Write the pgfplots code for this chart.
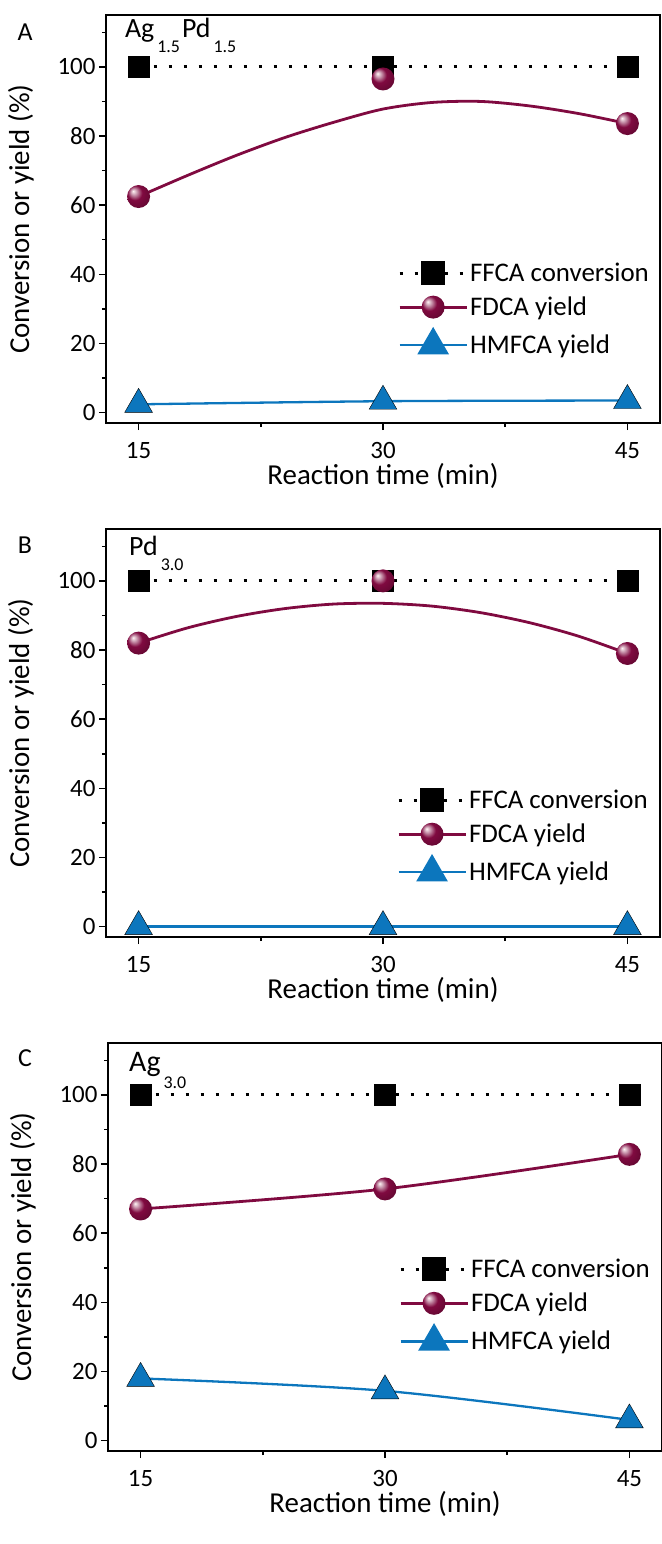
\documentclass[border=0pt]{standalone}
\usepackage{pgfplots}
\pgfplotsset{compat=1.18}
\usepackage{fontspec}
\setmainfont{Carlito}
\definecolor{wine}{RGB}{128,10,64}
\definecolor{hblue}{RGB}{12,118,189}
\pgfdeclareradialshading{wineball}{\pgfpoint{-12bp}{12bp}}{color(0bp)=(white!85!pink); color(7bp)=(wine!45!white); color(16bp)=(wine); color(27bp)=(wine!85!black); color(50bp)=(wine!40!black)}
\pgfdeclareplotmark{myball}{\pgfpathcircle{\pgfpointorigin}{\pgfplotmarksize}\pgfshadepath{wineball}{0}\pgfusepath{}}
\pgfplotsset{
  panel/.style={
    scale only axis, width=554bp, height=408bp,
    xmin=13, xmax=47, ymin=-3, ymax=115,
    xtick={15,30,45}, minor xtick={22.5,37.5},
    ytick={0,20,...,100}, minor ytick={10,30,...,110},
    tick align=outside, tick pos=left,
    major tick length=7bp, minor tick length=4bp,
    axis line style={line width=2bp},
    every tick/.append style={black, line width=1.5bp},
    /pgf/number format/assume math mode=true,
    tick label style={font=\fontsize{25}{25}\selectfont},
    xticklabel style={yshift=-9bp},
    xlabel={Reaction time (min)},
    ylabel={Conversion or yield (\%)},
    label style={font=\fontsize{29}{29}\selectfont},
    xlabel style={at={(axis description cs:0.5,0)}, anchor=center, yshift=-53bp},
    ylabel style={at={(axis description cs:0,0.5)}, anchor=center, yshift=85bp},
    legend cell align=left,
    legend style={draw=none, fill=none, inner sep=0pt, row sep=10bp,
      font=\fontsize{27}{27}\selectfont, anchor=west},
    legend image code/.code={\draw[mark repeat=2,mark phase=2,##1] plot coordinates {(0bp,0bp) (33.5bp,0bp) (67bp,0bp)};},
  },
  ffcaline/.style={black, line width=3bp, dash pattern=on 3bp off 12bp},
  ffcamark/.style={only marks, mark=square*, mark size=10.5bp, mark options={solid, draw=none, fill=black}},
  fdcaline/.style={wine, line width=2.8bp},
  fdcamark/.style={only marks, mark=myball, mark size=11.5bp},
  hmline/.style={hblue, line width=2.3bp},
  hmmark/.style={only marks, mark=triangle*, mark size=16bp, mark options={solid, draw=none, fill=hblue}},
}
\newcommand{\legendset}{%
  \addlegendimage{ffcaline, mark=square*, mark size=10.5bp, mark options={solid, draw=none, fill=black}}
  \addlegendentry{FFCA conversion}
  \addlegendimage{fdcaline, mark=myball, mark size=11.5bp}
  \addlegendentry{FDCA yield}
  \addlegendimage{hmline, mark=triangle*, mark size=16bp, mark options={solid, draw=none, fill=hblue}}
  \addlegendentry{HMFCA yield}
}
\newcommand{\sub}[2][-15bp]{\kern3bp\raisebox{#1}{\fontsize{18}{18}\selectfont #2}\kern2bp}
\begin{document}
\begin{tikzpicture}
\useasboundingbox (0,0) rectangle (662bp,-1544bp);
% ---------------- Panel A
\begin{axis}[panel, at={(106bp,-423bp)}, anchor=south west,
  legend style={at={(0.527,0.279)}}]
\addplot[ffcaline, forget plot] coordinates {(15,100) (30,100) (45,100)};
\addplot[fdcaline, smooth, forget plot] coordinates {(15,62.5) (18,68.6) (21,74.4) (24,79.6) (27,84.0) (30,87.8) (33,89.7) (36,90.0) (39,88.7) (42,86.5) (45,83.6)};
\addplot[hmline, smooth, forget plot] coordinates {(15,2.4) (30,3.3) (45,3.5)};
\addplot[ffcamark, forget plot] coordinates {(15,100) (30,100) (45,100)};
\addplot[fdcamark, forget plot] coordinates {(15,62.5) (30,96.5) (45,83.6)};
\addplot[hmmark, forget plot] coordinates {(15,2.4) (30,3.3) (45,3.5)};
\legendset
\node[anchor=base west, inner sep=0pt, font=\fontsize{28}{28}\selectfont] at (rel axis cs:0.034,0.944) {Ag\sub{1.5}Pd\sub{1.5}};
\end{axis}
\node[font=\fontsize{26}{26}\selectfont] at (25bp,-32bp) {A};
% ---------------- Panel B
\begin{axis}[panel, at={(106bp,-937bp)}, anchor=south west,
  legend style={at={(0.525,0.247)}}]
\addplot[ffcaline, forget plot] coordinates {(15,100) (30,100) (45,100)};
\addplot[fdcaline, smooth, forget plot] coordinates {(15,82.0) (18,86.4) (21,89.7) (24,92.0) (27,93.3) (30,93.5) (33,92.7) (36,90.8) (39,87.9) (42,84.0) (45,79.0)};
\addplot[hmline, forget plot] coordinates {(15,0) (30,0) (45,0)};
\addplot[ffcamark, forget plot] coordinates {(15,100) (30,100) (45,100)};
\addplot[fdcamark, forget plot] coordinates {(15,82.0) (30,100) (45,79.0)};
\addplot[hmmark, forget plot] coordinates {(15,0) (30,0) (45,0)};
\legendset
\node[anchor=base west, inner sep=0pt, font=\fontsize{28}{28}\selectfont] at (rel axis cs:0.0415,0.934) {Pd\sub{3.0}};
\end{axis}
\node[font=\fontsize{26}{26}\selectfont] at (25bp,-545bp) {B};
% ---------------- Panel C
\begin{axis}[panel, at={(108bp,-1451bp)}, anchor=south west,
  legend style={at={(0.525,0.357)}}]
\addplot[ffcaline, forget plot] coordinates {(15,100) (30,100) (45,100)};
\addplot[fdcaline, smooth, forget plot] coordinates {(15,67.0) (30,72.8) (45,82.8)};
\addplot[hmline, smooth, forget plot] coordinates {(15,18.0) (30,14.4) (45,6.0)};
\addplot[ffcamark, forget plot] coordinates {(15,100) (30,100) (45,100)};
\addplot[fdcamark, forget plot] coordinates {(15,67.0) (30,72.8) (45,82.8)};
\addplot[hmmark, forget plot] coordinates {(15,18.0) (30,14.4) (45,6.0)};
\legendset
\node[anchor=base west, inner sep=0pt, font=\fontsize{30}{30}\selectfont] at (rel axis cs:0.038,0.931) {Ag\sub[-17bp]{3.0}};
\end{axis}
\node[font=\fontsize{26}{26}\selectfont] at (25bp,-1058bp) {C};
\end{tikzpicture}
\end{document}
